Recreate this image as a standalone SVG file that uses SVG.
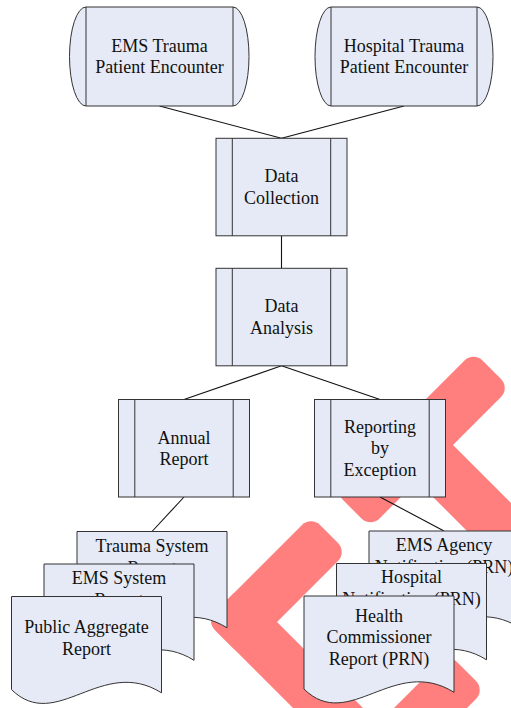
<svg xmlns="http://www.w3.org/2000/svg" xmlns:xlink="http://www.w3.org/1999/xlink" width="511" height="708" viewBox="0 0 511 708">
<style>
.shape{fill:#E5EAF6;stroke:#333;stroke-width:1}
.inner{fill:none;stroke:#333;stroke-width:1}
.conn line{stroke:#111;stroke-width:1.1}
.wm rect{fill:#FF7F7F}
text{font-family:"Liberation Serif","Times New Roman",serif;font-size:18px;fill:#111;text-anchor:middle}
</style>
<defs>
<path id="doc" d="M0,0 H150 V96.3 C90,58.9 45,137 0,93.1 Z"/>
</defs>
<rect width="511" height="708" fill="#fff"/>
<g class="wm" transform="matrix(0.5,0.5,-0.5,0.5,0,0)">
<rect x="825" y="-122" width="73" height="279" rx="18"/>
<rect x="825" y="-8" width="425" height="72" rx="18"/>
<rect x="827" y="205" width="72" height="210" rx="18"/>
<rect x="827" y="345" width="473" height="70" rx="18"/>
<rect x="1102" y="205" width="73" height="395" rx="18"/>
</g>
<g class="conn" id="connectors">
<line x1="159.5" y1="106" x2="281.5" y2="138.3"/>
<line x1="404" y1="106" x2="281.5" y2="138.3"/>
<line x1="281.5" y1="235.8" x2="281.5" y2="268.3"/>
<line x1="281.5" y1="365.8" x2="184" y2="399.5"/>
<line x1="281.5" y1="365.8" x2="380" y2="399.5"/>
<line x1="184" y1="497" x2="152" y2="531.5"/>
<line x1="380" y1="497" x2="444" y2="531"/>
</g>
<g id="ems-encounter">
<path class="shape" d="M86,7 H233 A16,49.5 0 0 1 233,106 H86 A16.5,49.5 0 0 1 86,7 Z"/>
<path class="inner" d="M86,7 V106 M233,7 V106"/>
<text x="159.5" y="51.8">EMS Trauma</text>
<text x="159.5" y="73.4">Patient Encounter</text>
</g>
<g id="hospital-encounter">
<path class="shape" d="M331,7 H477 A16,49.5 0 0 1 477,106 H331 A16,49.5 0 0 1 331,7 Z"/>
<path class="inner" d="M331,7 V106 M477,7 V106"/>
<text x="404" y="51.8">Hospital Trauma</text>
<text x="404" y="73.4">Patient Encounter</text>
</g>
<g id="data-collection">
<rect class="shape" x="216" y="138.3" width="131" height="97.5"/>
<path class="inner" d="M232.3,138.3 V235.8 M330.7,138.3 V235.8"/>
<text x="281.5" y="182.3">Data</text>
<text x="281.5" y="203.9">Collection</text>
</g>
<g id="data-analysis">
<rect class="shape" x="216" y="268.3" width="131" height="97.5"/>
<path class="inner" d="M232.3,268.3 V365.8 M330.7,268.3 V365.8"/>
<text x="281.5" y="312.3">Data</text>
<text x="281.5" y="333.9">Analysis</text>
</g>
<g id="annual-report">
<rect class="shape" x="118.5" y="399.5" width="131" height="97.5"/>
<path class="inner" d="M134.8,399.5 V497 M233.2,399.5 V497"/>
<text x="184" y="443.5">Annual</text>
<text x="184" y="465.1">Report</text>
</g>
<g id="reporting-exception">
<rect class="shape" x="314.5" y="399.5" width="131" height="97.5"/>
<path class="inner" d="M330.8,399.5 V497 M429.2,399.5 V497"/>
<text x="380" y="432.7">Reporting</text>
<text x="380" y="454.3">by</text>
<text x="380" y="475.9">Exception</text>
</g>
<g id="trauma-system-report">
<use class="shape" xlink:href="#doc" x="77" y="531.5"/>
<text x="152" y="552">Trauma System</text>
<text x="152" y="574">Report</text>
</g>
<g id="ems-system-report">
<use class="shape" xlink:href="#doc" x="44" y="564"/>
<text x="119" y="583.5">EMS System</text>
<text x="119" y="605.5">Report</text>
</g>
<g id="public-aggregate-report">
<use class="shape" xlink:href="#doc" x="11.5" y="596.5"/>
<text x="86.5" y="633.2">Public Aggregate</text>
<text x="86.5" y="654.8">Report</text>
</g>
<g id="ems-agency-notification">
<use class="shape" xlink:href="#doc" x="369" y="531"/>
<text x="444" y="550.7">EMS Agency</text>
<text x="444" y="572.5">Notification (PRN)</text>
</g>
<g id="hospital-notification">
<use class="shape" xlink:href="#doc" x="336.5" y="563.5"/>
<text x="411.5" y="583">Hospital</text>
<text x="411.5" y="605">Notification (PRN)</text>
</g>
<g id="health-commissioner-report">
<use class="shape" xlink:href="#doc" x="304" y="596"/>
<text x="379" y="621.8">Health</text>
<text x="379" y="643.4">Commissioner</text>
<text x="379" y="665">Report (PRN)</text>
</g>
</svg>
